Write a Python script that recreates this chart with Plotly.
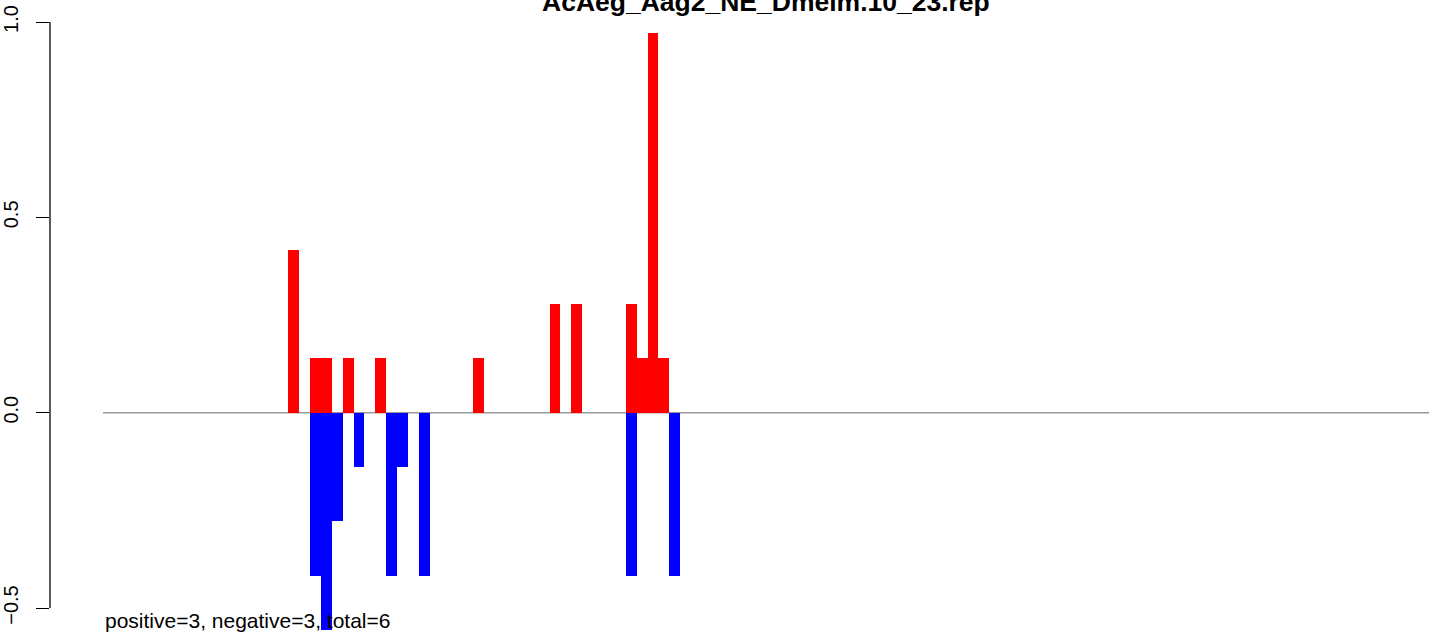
import plotly.graph_objects as go

title_text = "AcAeg_Aag2_NE_Dmelm.10_23.rep"
summary_text = "positive=3, negative=3, total=6"

# positions (1-based, bar spans [pos-1, pos]) and values
pos_positions = [18, 20, 21, 23, 26, 35, 42, 44, 49, 50, 51, 52]
pos_values = [0.417, 0.139, 0.139, 0.139, 0.139, 0.139, 0.278, 0.278, 0.278, 0.139, 0.973, 0.139]
neg_positions = [20, 21, 22, 24, 27, 28, 30, 49, 53]
neg_values = [-0.417, -0.556, -0.278, -0.139, -0.417, -0.139, -0.417, -0.417, -0.417]

seq_length = 130
y_tick_vals = [-0.5, 0.0, 0.5, 1.0]
y_tick_text = ["\u22120.5", "0.0", "0.5", "1.0"]

fig = go.Figure()
fig.add_trace(go.Bar(x=[p - 0.5 for p in pos_positions], y=pos_values, width=1,
                     marker=dict(color="#FF0000", line=dict(width=0)), showlegend=False,
                     hoverinfo="skip"))
fig.add_trace(go.Bar(x=[p - 0.5 for p in neg_positions], y=neg_values, width=1,
                     marker=dict(color="#0000FF", line=dict(width=0)), showlegend=False,
                     hoverinfo="skip"))

fig.update_layout(
    width=1429, height=636,
    margin=dict(l=50, r=0, t=0, b=0),
    paper_bgcolor="white", plot_bgcolor="white",
    barmode="overlay", bargap=0,
    font=dict(family="Liberation Sans, Arial, sans-serif", color="black"),
    xaxis=dict(range=[-4.87, 121.76], visible=False, showgrid=False, zeroline=False),
    yaxis=dict(range=[-0.5715, 1.0563], showgrid=False, zeroline=False, showline=False,
               tickvals=y_tick_vals, ticktext=y_tick_text, ticks="outside", ticklen=13,
               tickwidth=1.3, tickcolor="black", tickangle=-90,
               tickfont=dict(size=20, family="Liberation Sans, Arial, sans-serif", color="black"),
               ticklabelstandoff=10),
    shapes=[
        dict(type="line", xref="x", yref="y", x0=0, x1=seq_length, y0=0, y1=0,
             line=dict(color="#999999", width=1.5), layer="below"),
        dict(type="line", xref="paper", yref="y", x0=0, x1=0, y0=y_tick_vals[0], y1=y_tick_vals[-1],
             line=dict(color="black", width=1.3), layer="above"),
    ],
    annotations=[
        dict(text="<b>" + title_text + "</b>", xref="paper", yref="paper",
             x=(766 - 50) / 1379, y=1, yshift=-2, xanchor="center", yanchor="middle",
             showarrow=False, font=dict(size=26.5, color="black",
                                        family="Liberation Sans, Arial, sans-serif")),
        dict(text=summary_text, xref="x", yref="paper", x=0, y=0, yshift=2,
             xanchor="left", yanchor="bottom", showarrow=False,
             font=dict(size=21, color="black", family="Liberation Sans, Arial, sans-serif")),
    ],
)

fig.write_html("out.html", config={"displayModeBar": False},
               post_script="document.body.style.margin='0';document.body.style.overflow='hidden';")
